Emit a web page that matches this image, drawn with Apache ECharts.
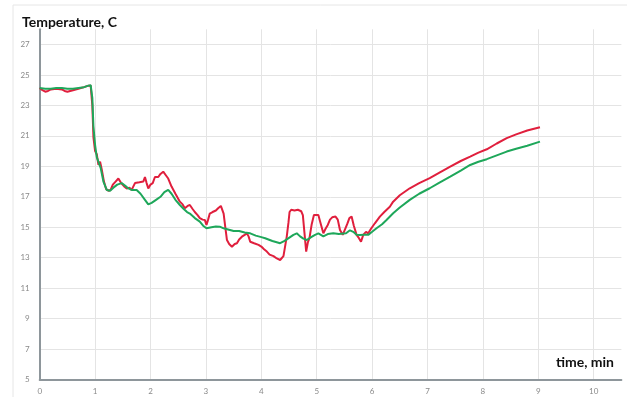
<!DOCTYPE html>
<html>
<head>
<meta charset="utf-8">
<script src="https://cdn.jsdelivr.net/npm/echarts@6/dist/echarts.min.js"></script>
<style>
  html, body { margin: 0; padding: 0; background: #fff; }
  #chart { width: 627px; height: 397px; }
</style>
</head>
<body>
<div id="chart"></div>
<script>
// Temperature readings of two sensors, [time in minutes, temperature in C]
const redSensor = [
  [0,24.15],[0.05,24.0],[0.1,23.9],[0.15,23.95],[0.2,24.05],[0.3,24.1],[0.4,24.05],[0.45,23.95],
  [0.5,23.9],[0.55,23.95],[0.6,24.0],[0.7,24.1],[0.8,24.2],[0.88,24.3],[0.92,24.3],[0.95,23.0],
  [0.97,20.9],[1.0,20.0],[1.03,19.8],[1.06,19.1],[1.09,19.3],[1.12,18.8],[1.16,18.0],[1.2,17.5],
  [1.24,17.4],[1.28,17.45],[1.32,17.8],[1.37,18.0],[1.42,18.2],[1.47,17.9],[1.52,17.7],[1.57,17.55],
  [1.62,17.6],[1.66,17.45],[1.72,17.9],[1.8,17.95],[1.87,18.0],[1.9,18.3],[1.93,17.9],[1.96,17.55],
  [2.0,17.8],[2.04,17.9],[2.08,18.3],[2.14,18.3],[2.18,18.5],[2.23,18.65],[2.28,18.4],[2.32,18.2],
  [2.38,17.67],[2.45,17.2],[2.53,16.68],[2.58,16.5],[2.62,16.25],[2.67,16.4],[2.71,16.46],[2.76,16.2],
  [2.8,16.0],[2.85,15.8],[2.89,15.6],[2.94,15.5],[2.98,15.48],[3.01,15.15],[3.04,15.5],[3.07,15.9],
  [3.12,16.0],[3.18,16.1],[3.22,16.25],[3.27,16.4],[3.3,16.3],[3.32,15.9],[3.35,15.0],[3.38,14.16],[3.42,13.9],
  [3.47,13.72],[3.52,13.9],[3.56,13.95],[3.6,14.2],[3.65,14.38],[3.7,14.5],[3.74,14.6],[3.77,14.4],
  [3.8,14.05],[3.87,13.95],[3.95,13.84],[4.0,13.73],[4.05,13.55],[4.1,13.4],[4.15,13.2],[4.22,13.1],
  [4.28,12.95],[4.34,12.85],[4.4,13.1],[4.43,13.2],[4.46,14.4],[4.49,15.3],[4.51,16.0],[4.54,16.15],
  [4.6,16.1],[4.66,16.15],[4.72,16.05],[4.75,15.8],[4.78,14.6],[4.81,13.4],[4.84,14.0],[4.87,14.3],
  [4.91,15.2],[4.95,15.8],[4.98,15.9],[5.03,15.8],[5.06,15.4],[5.09,15.0],[5.12,14.6],[5.16,14.9],
  [5.2,15.15],[5.24,15.5],[5.28,15.65],[5.34,15.7],[5.38,15.5],[5.42,14.82],[5.47,14.5],[5.5,14.6],
  [5.55,15.2],[5.59,15.6],[5.63,15.7],[5.67,15.1],[5.72,14.5],[5.76,14.3],[5.8,14.05],[5.84,14.5],
  [5.89,14.7],[5.93,14.6],[5.98,14.9],[6.05,15.26],[6.14,15.7],[6.22,16.0],[6.32,16.35],[6.38,16.68],
  [6.5,17.1],[6.68,17.56],[6.85,17.9],[7.04,18.22],[7.2,18.55],[7.41,18.98],[7.6,19.35],[7.77,19.64],
  [7.92,19.9],[8.07,20.12],[8.25,20.5],[8.43,20.85],[8.6,21.1],[8.8,21.35],[9.03,21.57]
];

const greenSensor = [
  [0,24.15],[0.1,24.1],[0.2,24.1],[0.3,24.15],[0.4,24.15],[0.5,24.1],[0.6,24.1],[0.7,24.15],
  [0.8,24.2],[0.88,24.3],[0.92,24.33],[0.95,23.5],[0.97,21.6],[1.0,20.4],[1.03,19.6],[1.06,19.5],
  [1.1,18.9],[1.15,18.0],[1.21,17.45],[1.27,17.4],[1.33,17.6],[1.4,17.8],[1.48,17.9],[1.55,17.7],
  [1.6,17.55],[1.66,17.45],[1.75,17.45],[1.82,17.2],[1.9,16.8],[1.96,16.5],[2.02,16.6],[2.1,16.8],
  [2.18,17.0],[2.25,17.3],[2.32,17.45],[2.38,17.2],[2.45,16.8],[2.53,16.46],[2.6,16.2],[2.66,16.0],
  [2.71,15.9],[2.8,15.6],[2.89,15.37],[2.95,15.1],[3.01,14.93],[3.1,15.0],[3.18,15.05],[3.25,15.04],
  [3.32,14.93],[3.4,14.85],[3.5,14.75],[3.6,14.75],[3.7,14.65],[3.8,14.6],[3.9,14.45],[4.0,14.35],
  [4.07,14.28],[4.2,14.1],[4.34,13.95],[4.42,14.1],[4.5,14.3],[4.58,14.5],[4.64,14.6],[4.7,14.4],
  [4.76,14.25],[4.82,14.16],[4.9,14.35],[4.97,14.5],[5.03,14.6],[5.12,14.4],[5.2,14.55],[5.3,14.6],
  [5.4,14.55],[5.53,14.6],[5.6,14.8],[5.66,14.7],[5.72,14.5],[5.78,14.49],[5.85,14.5],[5.93,14.5],
  [6.0,14.7],[6.08,14.93],[6.18,15.2],[6.26,15.48],[6.38,15.92],[6.5,16.3],[6.68,16.8],[6.85,17.2],
  [7.04,17.56],[7.2,17.9],[7.41,18.32],[7.6,18.72],[7.77,19.09],[7.92,19.3],[8.07,19.47],[8.25,19.72],
  [8.43,19.97],[8.6,20.15],[8.8,20.35],[9.03,20.62]
];

const yTitle = 'Temperature, C';
const xTitle = 'time, min';

const chart = echarts.init(document.getElementById('chart'), null, { renderer: 'canvas' });

const font = 'Lato, "Open Sans", sans-serif';
const tickLabel = { color: '#8a8a8a', fontSize: 8, fontFamily: font };
const gridLine = { show: true, showMaxLine: false, lineStyle: { color: '#e4e4e4', width: 1 } };
const axisLine = { show: true, onZero: false, lineStyle: { color: '#8e969b', width: 2 } };

chart.setOption({
  animation: false,
  backgroundColor: '#ffffff',
  graphic: [
    { type: 'rect', silent: true, z: -10,
      shape: { x: 13, y: 5, width: 640, height: 420 },
      style: { fill: 'none', stroke: '#e6e6e6', lineWidth: 1 } },
    { type: 'text', left: 22, top: 15, z: 10,
      style: { text: yTitle, font: 'bold 14px ' + font, fill: '#111' } },
    { type: 'text', right: 13, top: 355, z: 10,
      style: { text: xTitle, font: 'bold 14px ' + font, fill: '#111' } }
  ],
  grid: { left: 39.7, right: 5.6, top: 29.3, bottom: 17.5, containLabel: false },
  xAxis: {
    type: 'value', min: 0, max: 10.5, interval: 1,
    axisLine: axisLine,
    axisTick: { show: false },
    axisLabel: Object.assign({ margin: 8, showMaxLabel: false }, tickLabel),
    splitLine: gridLine
  },
  yAxis: {
    type: 'value', min: 5, max: 28, interval: 2,
    axisLine: axisLine,
    axisTick: { show: false },
    axisLabel: Object.assign({ margin: 10, showMaxLabel: false }, tickLabel),
    splitLine: gridLine
  },
  series: [
    { name: 'red', type: 'line', data: redSensor, showSymbol: false, smooth: false,
      lineStyle: { color: '#e01f3d', width: 2 }, z: 3 },
    { name: 'green', type: 'line', data: greenSensor, showSymbol: false, smooth: false,
      lineStyle: { color: '#1ea75a', width: 2 }, z: 4 }
  ]
});
</script>
</body>
</html>
